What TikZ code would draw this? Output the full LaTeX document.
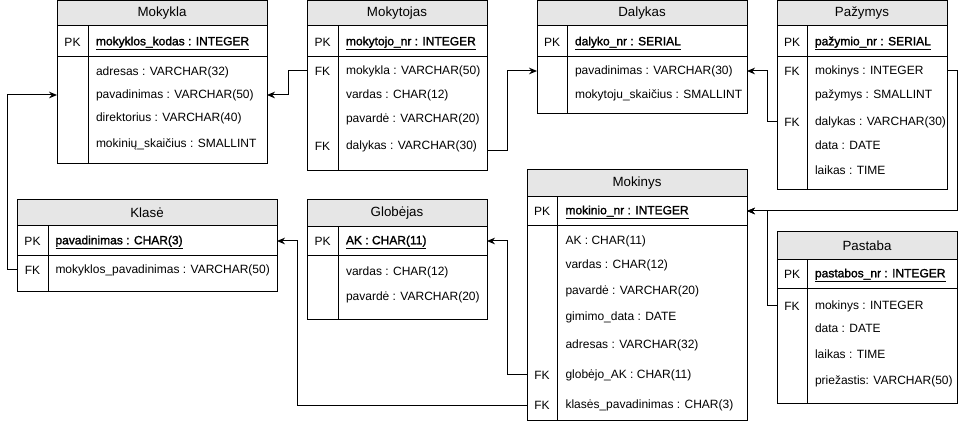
\documentclass[tikz,border=0pt]{standalone}
\usepackage{fontspec}
\setmainfont{Liberation Sans}
\newfontfamily\pkfont{Liberation Sans}[FakeBold=1.6]
\usepackage{xcolor}
\definecolor{headgray}{HTML}{E6E6E6}
\usetikzlibrary{arrows.meta}

\tikzset{
  ttl/.style={font=\fontsize{10}{12}\selectfont},
  keyl/.style={font=\fontsize{9}{11}\selectfont, inner sep=0pt},
  fld/.style={anchor=west, inner sep=0pt, text height=7pt, text depth=2pt,
    font=\fontsize{9}{11}\selectfont},
  pkfld/.style={fld, font=\fontsize{9}{11}\pkfont},
  fk/.style={-{Stealth[length=6pt, width=5pt, inset=2pt]}},
}

\begin{document}
\begin{tikzpicture}[x=0.75pt, y=-0.75pt, line width=0.75pt]
  \useasboundingbox (0,0) rectangle (966,423);

  % Mokykla
  \coordinate (mkl-w) at (57,1);
  \coordinate (mkl-e) at (267,1);
  \draw[fill=headgray] (57,1) rectangle (267,26);
  \draw (57,26) rectangle (267,164);
  \draw (57,57) -- (267,57);
  \draw (88,26) -- (88,164);
  \node[ttl] (mkl) at (162,13.5) {Mokykla};
  \node[keyl] (mkl-pk) at (72.5,42) {PK};
  \node[pkfld] (mkl-id) at (95.5,42) {\underline{mokyklos\_kodas : INTEGER}};
  \node[fld] (mkl-adr) at (95.5,72.5) {adresas : VARCHAR(32)};
  \node[fld] (mkl-pav) at (95.5,95) {pavadinimas : VARCHAR(50)};
  \node[fld] (mkl-dir) at (95.5,118.5) {direktorius : VARCHAR(40)};
  \node[fld] (mkl-sk) at (95.5,144) {mokinių\_skaičius : SMALLINT};

  % Mokytojas
  \coordinate (mkt-w) at (307,1);
  \coordinate (mkt-e) at (487,1);
  \coordinate (mkt-dk) at (487,151);
  \draw[fill=headgray] (307,1) rectangle (487,26);
  \draw (307,26) rectangle (487,171);
  \draw (307,57) -- (487,57);
  \draw (338,26) -- (338,171);
  \node[ttl] (mkt) at (397,13.5) {Mokytojas};
  \node[keyl] (mkt-pk) at (322.5,42) {PK};
  \node[keyl] (mkt-fk1) at (322.5,71) {FK};
  \node[keyl] (mkt-fk2) at (322.5,146) {FK};
  \node[pkfld] (mkt-id) at (345.5,42) {\underline{mokytojo\_nr : INTEGER}};
  \node[fld] (mkt-mkl) at (345.5,71) {mokykla : VARCHAR(50)};
  \node[fld] (mkt-vrd) at (345.5,95) {vardas : CHAR(12)};
  \node[fld] (mkt-pvd) at (345.5,119) {pavardė : VARCHAR(20)};
  \node[fld] (mkt-dal) at (345.5,146) {dalykas : VARCHAR(30)};

  % Dalykas
  \coordinate (dal-w) at (537,1);
  \coordinate (dal-e) at (747,1);
  \draw[fill=headgray] (537,1) rectangle (747,26);
  \draw (537,26) rectangle (747,114);
  \draw (537,57) -- (747,57);
  \draw (567,26) -- (567,114);
  \node[ttl] (dal) at (642,13.5) {Dalykas};
  \node[keyl] (dal-pk) at (552,42) {PK};
  \node[pkfld] (dal-id) at (574.5,42) {\underline{dalyko\_nr : SERIAL}};
  \node[fld] (dal-pav) at (574.5,71) {pavadinimas : VARCHAR(30)};
  \node[fld] (dal-sk) at (574.5,95) {mokytoju\_skaičius : SMALLINT};

  % Pazymys
  \coordinate (paz-w) at (777,1);
  \coordinate (paz-e) at (947,1);
  \draw[fill=headgray] (777,1) rectangle (947,26);
  \draw (777,26) rectangle (947,190);
  \draw (777,57) -- (947,57);
  \draw (807,26) -- (807,190);
  \node[ttl] (paz) at (862,13.5) {Pažymys};
  \node[keyl] (paz-pk) at (792,42) {PK};
  \node[keyl] (paz-fk1) at (792,71) {FK};
  \node[keyl] (paz-fk2) at (792,122) {FK};
  \node[pkfld] (paz-id) at (814.5,42) {\underline{pažymio\_nr : SERIAL}};
  \node[fld] (paz-mok) at (814.5,71) {mokinys : INTEGER};
  \node[fld] (paz-paz) at (814.5,95) {pažymys : SMALLINT};
  \node[fld] (paz-dal) at (814.5,122) {dalykas : VARCHAR(30)};
  \node[fld] (paz-dat) at (814.5,146) {data : DATE};
  \node[fld] (paz-lk) at (814.5,171) {laikas : TIME};

  % Klase
  \coordinate (kls-w) at (17,200);
  \coordinate (kls-e) at (277,200);
  \draw[fill=headgray] (17,200) rectangle (277,226);
  \draw (17,226) rectangle (277,292);
  \draw (17,256) -- (277,256);
  \draw (48,226) -- (48,292);
  \node[ttl] (kls) at (147,213) {Klasė};
  \node[keyl] (kls-pk) at (32.5,241) {PK};
  \node[keyl] (kls-fk) at (32.5,270) {FK};
  \node[pkfld] (kls-id) at (55,241) {\underline{pavadinimas : CHAR(3)}};
  \node[fld] (kls-mpav) at (55,270) {mokyklos\_pavadinimas : VARCHAR(50)};

  % Globejas
  \coordinate (glo-e) at (487,200);
  \draw[fill=headgray] (307,200) rectangle (487,227);
  \draw (307,227) rectangle (487,320);
  \draw (307,256) -- (487,256);
  \draw (338,227) -- (338,320);
  \node[ttl] (glo) at (397,213.5) {Globėjas};
  \node[keyl] (glo-pk) at (322.5,241) {PK};
  \node[pkfld] (glo-id) at (345.5,241) {\underline{AK : CHAR(11)}};
  \node[fld] (glo-vrd) at (345.5,272) {vardas : CHAR(12)};
  \node[fld] (glo-pvd) at (345.5,297) {pavardė : VARCHAR(20)};

  % Mokinys
  \coordinate (mok-w) at (527,170);
  \coordinate (mok-e) at (747,170);
  \draw[fill=headgray] (527,170) rectangle (747,197);
  \draw (527,197) rectangle (747,420);
  \draw (527,226) -- (747,226);
  \draw (557,197) -- (557,420);
  \node[ttl] (mok) at (637,183.5) {Mokinys};
  \node[keyl] (mok-pk) at (542,211) {PK};
  \node[keyl] (mok-fk1) at (542,375) {FK};
  \node[keyl] (mok-fk2) at (542,405) {FK};
  \node[pkfld] (mok-id) at (565,211) {\underline{mokinio\_nr : INTEGER}};
  \node[fld] (mok-ak) at (565,241) {AK : CHAR(11)};
  \node[fld] (mok-vrd) at (565,265) {vardas : CHAR(12)};
  \node[fld] (mok-pvd) at (565,291) {pavardė : VARCHAR(20)};
  \node[fld] (mok-gim) at (565,317) {gimimo\_data : DATE};
  \node[fld] (mok-adr) at (565,345) {adresas : VARCHAR(32)};
  \node[fld] (mok-glo) at (565,375) {globėjo\_AK : CHAR(11)};
  \node[fld] (mok-kls) at (565,405) {klasės\_pavadinimas : CHAR(3)};

  % Pastaba
  \coordinate (pst-w) at (777,232);
  \draw[fill=headgray] (777,232) rectangle (957,260);
  \draw (777,260) rectangle (957,403);
  \draw (777,289) -- (957,289);
  \draw (807,260) -- (807,403);
  \node[ttl] (pst) at (867,246) {Pastaba};
  \node[keyl] (pst-pk) at (792,274) {PK};
  \node[keyl] (pst-fk) at (792,306) {FK};
  \node[pkfld] (pst-id) at (814.5,274) {\underline{pastabos\_nr : INTEGER}};
  \node[fld] (pst-mok) at (814.5,306) {mokinys : INTEGER};
  \node[fld] (pst-dat) at (814.5,329) {data : DATE};
  \node[fld] (pst-lk) at (814.5,355) {laikas : TIME};
  \node[fld] (pst-pr) at (814.5,381) {priežastis: VARCHAR(50)};

  % foreign keys
  \draw[fk] (kls-w |- kls-mpav) -- ++(-10,0) |- (mkl-w |- mkl-pav);
  \draw[fk] (mkt-w |- mkt-mkl) -- ++(-19,0) |- (mkl-e |- mkl-pav);
  \draw[fk] (mkt-dk) -- ++(20,0) |- (dal-w |- dal-pav);
  \draw[fk] (paz-w |- paz-dal) -- ++(-10,0) |- (dal-e |- dal-pav);
  \draw[fk] (paz-e |- paz-mok) -- ++(10,0) |- (mok-e |- mok-id);
  \draw[fk] (pst-w |- pst-mok) -- ++(-10,0) |- (mok-e |- mok-id);
  \draw[fk] (mok-w |- mok-glo) -- ++(-20,0) |- (glo-e |- glo-id);
  \draw[fk] (mok-w |- mok-kls) -- ++(-230,0) |- (kls-e |- kls-id);
\end{tikzpicture}
\end{document}
